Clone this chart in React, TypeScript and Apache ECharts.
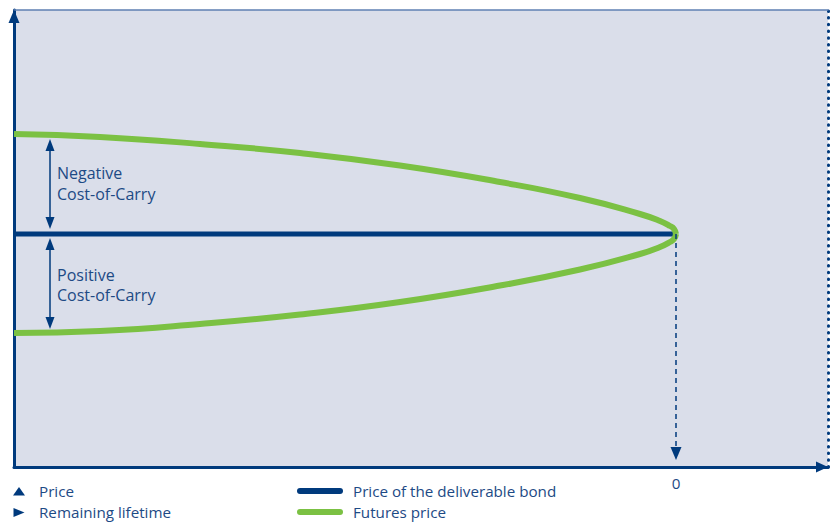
import React, { useEffect, useRef } from "react";
import * as echarts from "echarts";

// ---- data (x: remaining lifetime offset, tip at 0; y: price units) ----
const xMin = -662;
const xMax = 152;
const yMin = 0;
const yMax = 457;

const bondX = [-662, 0];
const bondY = [233, 233];

const futuresX = [-662, -576, -476, -376, -276, -176, -96, -36, -16, -6, -2, 0];
const futuresUpperY = [333, 330, 323, 314, 301.5, 285, 269, 253, 246, 241, 238, 233];
const futuresLowerY = [134, 136, 143, 152.5, 165, 181.5, 197.5, 213, 220, 225, 228, 233];

const zeroTick = [0];
const legendNames = ["Price of the deliverable bond", "Futures price"];
const axisNotes = ["Price", "Remaining lifetime"];
const carryNotes = ["Negative\nCost-of-Carry", "Positive\nCost-of-Carry"];

// annotation arrows (data coords)
const carryArrowX = -626;
const negArrowY = [322, 244];
const posArrowY = [223, 144];
const maturityArrowY = [233, 13.5];

const NAVY = "#003a7d";
const TEXT = "#1d4a85";
const GREEN = "#7bc143";
const BG = "#dadeea";
const FONT = "'Open Sans', Lato, sans-serif";
const FS = 15.2;
const FS_NOTE = 16;

const zip = (xs: number[], ys: number[]) => xs.map((x, i) => [x, ys[i]]);

export default function App() {
  const ref = useRef<HTMLDivElement>(null);

  useEffect(() => {
    if (!ref.current) return;
    const chart = echarts.init(ref.current, undefined, { renderer: "svg" });

    const legendBase = {
      orient: "vertical",
      left: 297,
      padding: 0,
      itemWidth: 46,
      itemHeight: 6,
      itemGap: 0,
      icon: "path://M3,0 L43,0 A3,3 0 0 1 43,6 L3,6 A3,3 0 0 1 3,0 Z",
      textStyle: {
        fontSize: FS,
        color: TEXT,
        fontFamily: FONT,
        lineHeight: 21,
        padding: [0, 0, 0, 5],
      },
      selectedMode: false,
    };

    const option: any = {
      animation: false,
      textStyle: { fontFamily: FONT },
      grid: {
        left: 14,
        right: 2,
        top: 10,
        bottom: 55,
        show: true,
        backgroundColor: BG,
        borderWidth: 0,
      },
      xAxis: [
        {
          type: "value",
          min: xMin,
          max: xMax,
          position: "bottom",
          axisLine: {
            show: true,
            onZero: false,
            lineStyle: { color: NAVY, width: 3 },
            symbol: ["none", "triangle"],
            symbolSize: [11, 12],
            symbolOffset: [0, -6],
          },
          axisTick: { show: false },
          splitLine: { show: false },
          axisLabel: {
            customValues: zeroTick,
            formatter: (v: number) => String(v),
            color: TEXT,
            fontSize: FS,
            margin: 8,
            fontFamily: FONT,
          },
        },
        {
          type: "value",
          min: xMin,
          max: xMax,
          position: "top",
          axisLine: { show: true, onZero: false, lineStyle: { color: "#5f80b3", width: 1.5 } },
          axisTick: { show: false },
          axisLabel: { show: false },
          splitLine: { show: false },
        },
      ],
      yAxis: [
        {
          type: "value",
          min: yMin,
          max: yMax,
          position: "left",
          axisLine: {
            show: true,
            onZero: false,
            lineStyle: { color: NAVY, width: 3 },
            symbol: ["none", "triangle"],
            symbolSize: [11, 13],
            symbolOffset: [0, -6.5],
          },
          axisTick: { show: false },
          axisLabel: { show: false },
          splitLine: { show: false },
        },
        {
          type: "value",
          min: yMin,
          max: yMax,
          position: "right",
          axisLine: {
            show: true,
            onZero: false,
            lineStyle: { color: NAVY, width: 3, type: [0.5, 6.2], cap: "round" },
          },
          axisTick: { show: false },
          axisLabel: { show: false },
          splitLine: { show: false },
        },
      ],
      legend: [
        { ...legendBase, data: [legendNames[0]], top: 480.5 },
        { ...legendBase, data: [legendNames[1]], top: 501.5 },
      ],
      series: [
        {
          name: legendNames[0],
          type: "line",
          data: zip(bondX, bondY),
          showSymbol: false,
          color: NAVY,
          lineStyle: { color: NAVY, width: 5 },
          z: 2,
          markLine: {
            silent: true,
            symbolSize: [9, 12],
            label: { show: false },
            lineStyle: { color: NAVY, width: 1.5, type: "solid" },
            data: [
              [
                { coord: [carryArrowX, negArrowY[0]], symbol: "triangle" },
                { coord: [carryArrowX, negArrowY[1]], symbol: "triangle" },
              ],
              [
                { coord: [carryArrowX, posArrowY[0]], symbol: "triangle" },
                { coord: [carryArrowX, posArrowY[1]], symbol: "triangle" },
              ],
              [
                {
                  coord: [0, maturityArrowY[0]],
                  symbol: "none",
                  lineStyle: { type: [5, 4], width: 1.5, color: NAVY },
                },
                {
                  coord: [0, maturityArrowY[1]],
                  symbol: "triangle",
                  symbolSize: [11, 13],
                },
              ],
            ],
          },
        },
        {
          name: legendNames[1],
          type: "line",
          data: zip(futuresX, futuresUpperY),
          showSymbol: false,
          smooth: 0.5,
          color: GREEN,
          lineStyle: { color: GREEN, width: 6 },
          z: 3,
        },
        {
          name: legendNames[1],
          type: "line",
          data: zip(futuresX, futuresLowerY),
          showSymbol: false,
          smooth: 0.5,
          color: GREEN,
          lineStyle: { color: GREEN, width: 6 },
          z: 3,
        },
      ],
      graphic: [
        {
          type: "text",
          left: 57,
          top: 162,
          style: { text: carryNotes[0], fontSize: FS_NOTE, lineHeight: 21, fill: TEXT, fontFamily: FONT },
        },
        {
          type: "text",
          left: 57,
          top: 264.5,
          style: { text: carryNotes[1], fontSize: FS_NOTE, lineHeight: 20, fill: TEXT, fontFamily: FONT },
        },
        {
          type: "polygon",
          shape: { points: [[13, 495.5], [25, 495.5], [19, 487]] },
          style: { fill: NAVY },
        },
        {
          type: "polygon",
          shape: { points: [[13.5, 508], [13.5, 517], [24.5, 512.5]] },
          style: { fill: NAVY },
        },
        {
          type: "text",
          left: 39,
          top: 480.5,
          style: { text: axisNotes[0], fontSize: FS, lineHeight: 21, fill: TEXT, fontFamily: FONT },
        },
        {
          type: "text",
          left: 39,
          top: 501.5,
          style: { text: axisNotes[1], fontSize: FS, lineHeight: 21, fill: TEXT, fontFamily: FONT },
        },
      ],
    };

    chart.setOption(option);
    return () => chart.dispose();
  }, []);

  return <div ref={ref} style={{ width: 830, height: 522, position: "absolute", left: 0, top: 0 }} />;
}
